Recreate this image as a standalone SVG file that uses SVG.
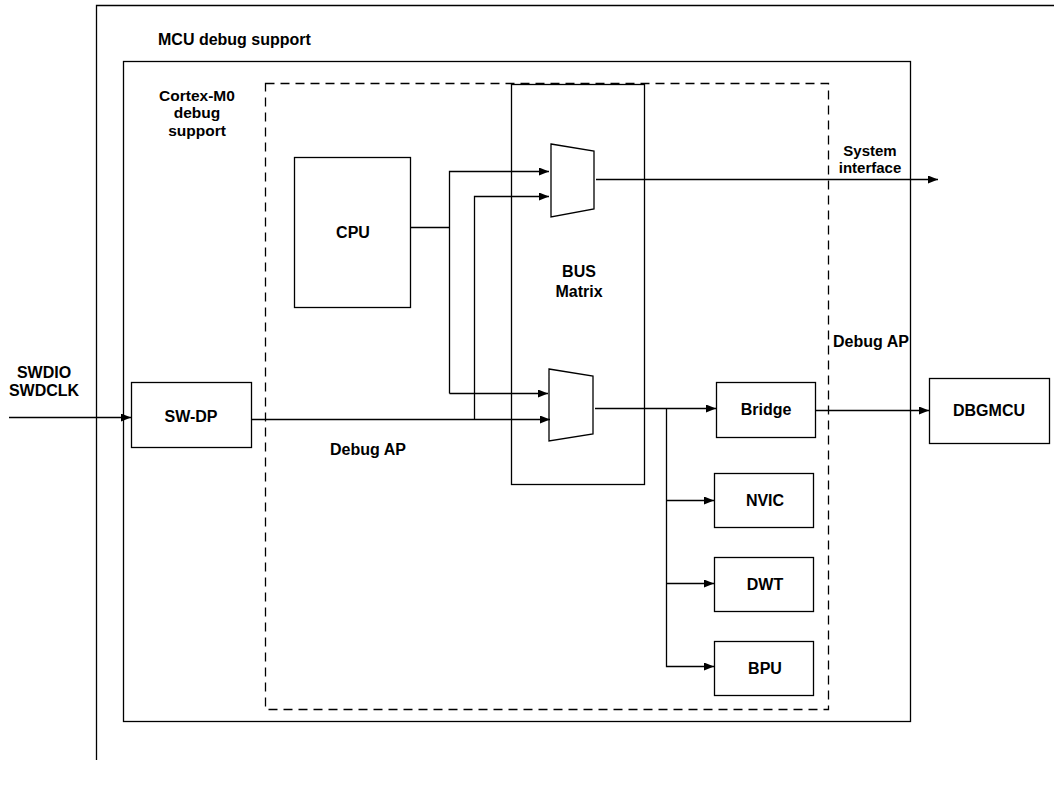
<svg xmlns="http://www.w3.org/2000/svg" width="1054" height="789" viewBox="0 0 1054 789">
<defs>
<marker id="ah" markerWidth="10" markerHeight="8" refX="10" refY="4" orient="auto" markerUnits="userSpaceOnUse">
<path d="M0,0 L10,4 L0,8 Z" fill="#000"/>
</marker>
<style>
.box{fill:#fff;stroke:#000;stroke-width:1.3}
.frame{fill:none;stroke:#000;stroke-width:1.3}
.dash{fill:none;stroke:#000;stroke-width:1.3;stroke-dasharray:9,6}
.ln{fill:none;stroke:#000;stroke-width:1.3}
.arr{fill:none;stroke:#000;stroke-width:1.3;marker-end:url(#ah)}
text{font-family:"Liberation Sans",Arial,sans-serif;font-weight:bold;font-size:16px;fill:#000}
.c{text-anchor:middle}
.s{font-size:15px}
.t{font-size:15.5px}
</style>
</defs>
<g id="mcu-frame">
<path class="frame" d="M96.5,760 V5.5 H1054"/>
<text x="158" y="45">MCU debug support</text>
</g>
<g id="cortex-box">
<rect class="box" x="123.5" y="61.5" width="787" height="660"/>
<text class="c t" x="197" y="100.5">Cortex-M0<tspan x="197" y="118">debug</tspan><tspan x="197" y="135.5">support</tspan></text>
</g>
<g id="debug-ap-region">
<rect class="dash" x="265.5" y="83.5" width="563" height="626"/>
<text x="833" y="347">Debug AP</text>
</g>
<g id="bus-matrix">
<rect class="box" x="511.5" y="84.5" width="133" height="400"/>
<text class="c" x="579" y="277">BUS<tspan x="579" y="297">Matrix</tspan></text>
</g>
<g id="cpu">
<rect class="box" x="294.5" y="157.5" width="116" height="150"/>
<text class="c" x="353" y="238">CPU</text>
</g>
<g id="mux-top">
<path class="box" d="M551,144 L594,151 L594,209 L551,217 Z"/>
</g>
<g id="mux-bottom">
<path class="box" d="M549,369 L593,376 L593,434 L549,441 Z"/>
</g>
<g id="sw-dp">
<rect class="box" x="131.5" y="382.5" width="120" height="65"/>
<text class="c" x="191" y="422">SW-DP</text>
</g>
<g id="bridge">
<rect class="box" x="716.5" y="382.5" width="99" height="55"/>
<text class="c" x="766" y="415">Bridge</text>
</g>
<g id="dbgmcu">
<rect class="box" x="929.5" y="378.5" width="120" height="65"/>
<text class="c" x="989" y="416">DBGMCU</text>
</g>
<g id="nvic">
<rect class="box" x="714.5" y="473.5" width="99" height="54"/>
<text class="c" x="765" y="506">NVIC</text>
</g>
<g id="dwt">
<rect class="box" x="714.5" y="557.5" width="99" height="54"/>
<text class="c" x="765" y="590">DWT</text>
</g>
<g id="bpu">
<rect class="box" x="714.5" y="641.5" width="99" height="54"/>
<text class="c" x="765" y="674">BPU</text>
</g>
<g id="labels">
<text class="c" x="44" y="378">SWDIO<tspan x="44" y="396">SWDCLK</tspan></text>
<text x="330" y="455">Debug AP</text>
<text class="c s" x="870" y="156">System<tspan x="870" y="173">interface</tspan></text>
</g>
<g id="connectors">
<path class="arr" d="M9,417.5 H131"/>
<path class="ln" d="M410.5,227.5 H449.5"/>
<path class="arr" d="M449.5,393.5 V171.5 H549"/>
<path class="arr" d="M449.5,393.5 H548"/>
<path class="arr" d="M251.5,419.5 H550"/>
<path class="arr" d="M474.5,419.5 V196.5 H549"/>
<path class="arr" d="M596,179.5 H938"/>
<path class="arr" d="M595,408.5 H716"/>
<path class="arr" d="M666.5,408.5 V666.5 H714"/>
<path class="arr" d="M666.5,500.5 H714"/>
<path class="arr" d="M666.5,583.5 H714"/>
<path class="arr" d="M815.5,410.5 H929"/>
</g>
</svg>
